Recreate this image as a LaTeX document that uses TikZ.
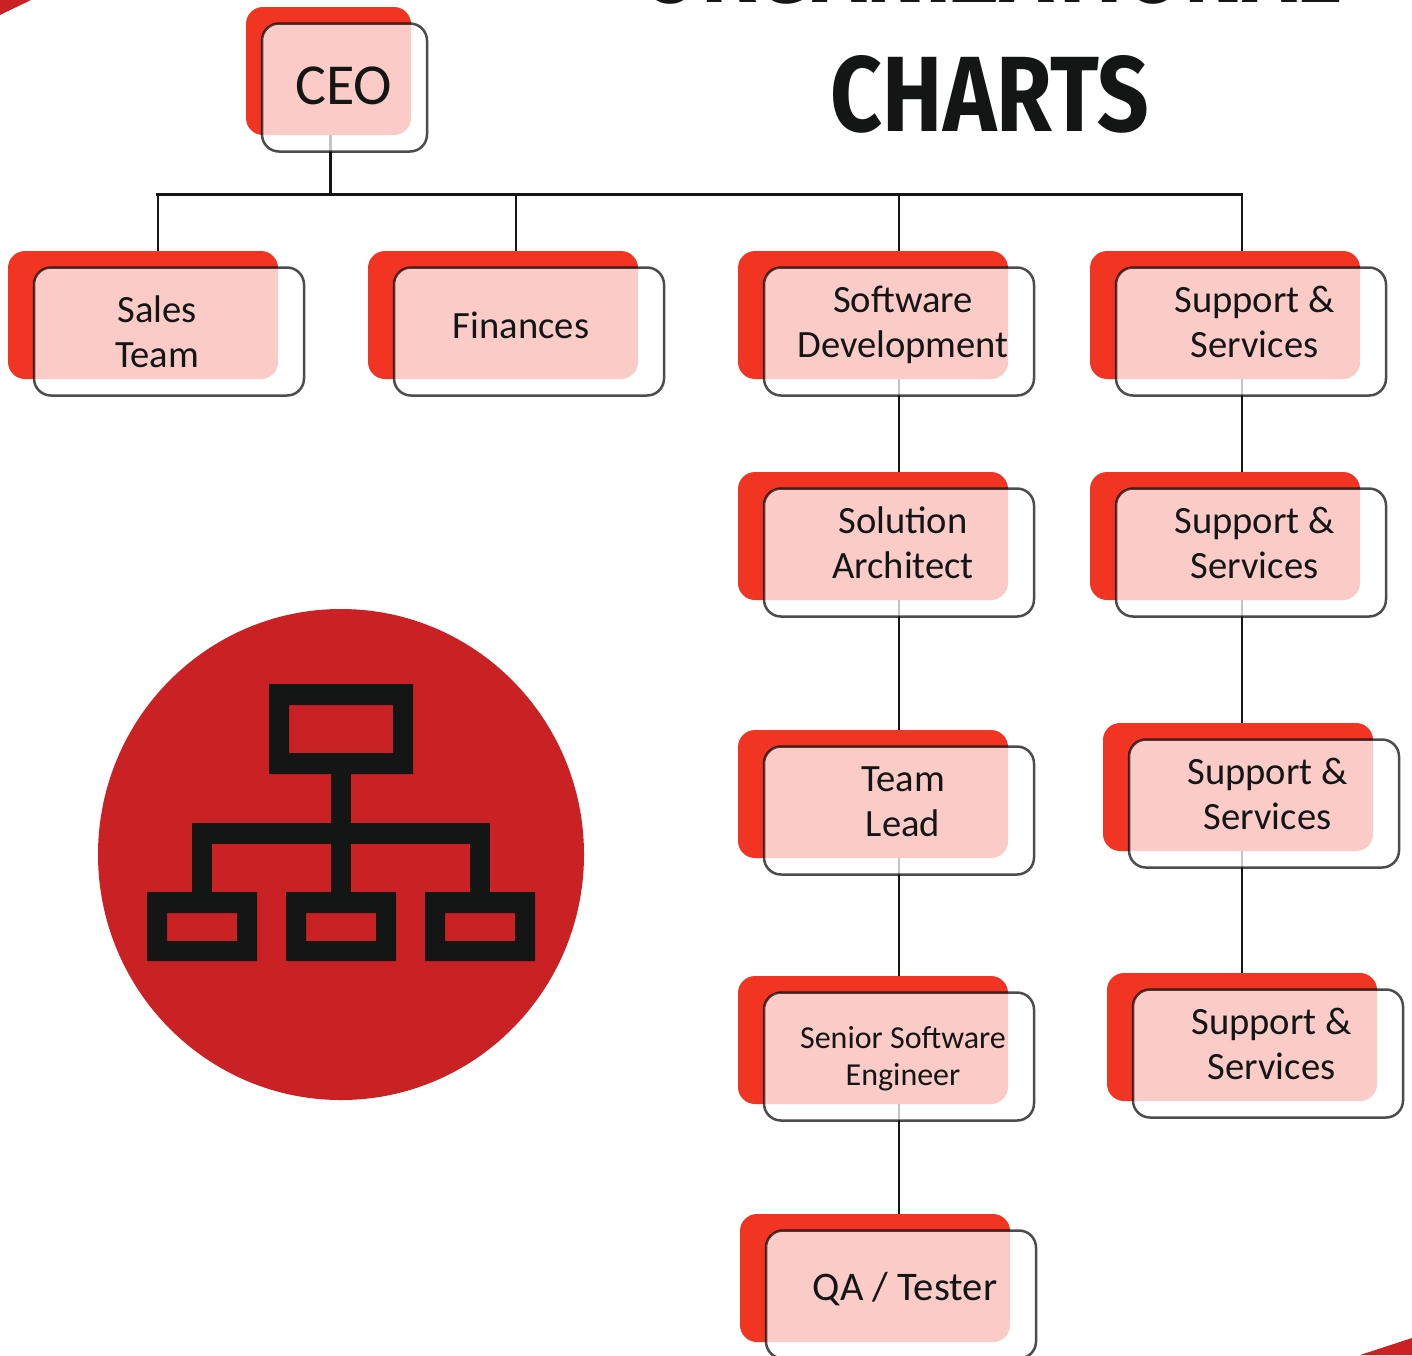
\documentclass[tikz,border=0pt]{standalone}
\usepackage{fontspec}
\setmainfont{Carlito}
\newfontfamily\titlefont{Fira Sans}[BoldFont={Fira Sans Bold}]
\usetikzlibrary{calc}
\definecolor{hotred}{HTML}{F23523}
\definecolor{deepred}{HTML}{C92124}
\definecolor{inkblack}{HTML}{141616}
\pgfdeclarelayer{wires}
\pgfdeclarelayer{top}
\pgfsetlayers{wires,main,top}
\tikzset{
  backbox/.style={rectangle,rounded corners=8.5pt,fill=hotred,inner sep=0pt,minimum width=135pt,minimum height=64pt},
  frontbox/.style={rectangle,rounded corners=8.5pt,fill=white,fill opacity=.75,draw=black,draw opacity=.7,line width=1.25pt,inner sep=0pt,minimum width=135pt,minimum height=64pt},
  narrowbox/.style={minimum width=82.5pt},
  lbl/.style={inner sep=0pt,align=center,text=inkblack,font=\fontsize{19.3}{22.5}\selectfont},
  qalbl/.style={inner sep=0pt,align=center,text=inkblack,font=\fontsize{20.3}{22.5}\selectfont},
  smalllbl/.style={inner sep=0pt,align=center,text=inkblack,font=\fontsize{16}{18.5}\selectfont},
  wire/.style={draw=inkblack,line width=1.4pt},
  iconpart/.style={fill=inkblack,even odd rule},
  corner/.style={fill=deepred},
}
\newcommand{\orgbox}[6]{%
  \node[backbox,#6] (#1r) at (#2,#3) {};
  \begin{pgfonlayer}{top}
    \node[frontbox,#6] (#1f) at (#4,#5) {};
  \end{pgfonlayer}}
\begin{document}
\begin{tikzpicture}[x=0.5pt,y=-0.5pt]
\useasboundingbox (0,0) rectangle (1412,1355);
\clip (0,0) rectangle (1412,1355);
\begin{pgfonlayer}{wires}
  \fill[white] (0,0) rectangle (1412,1355);
\end{pgfonlayer}

% corners
\fill[corner] (0,0) -- (31,0) -- (0,15) -- cycle;
\fill[corner] (1412,1355) -- (1360,1355) -- (1412,1338) -- cycle;

% title
\node[inner sep=0pt,text=inkblack,anchor=south] (t1) at (991,5) {\resizebox{351pt}{38pt}{\titlefont\bfseries ORGANIZATIONAL}};
\node[inner sep=0pt,text=inkblack,anchor=south] (t2) at (990,134) {\resizebox{159pt}{38pt}{\titlefont\bfseries CHARTS}};

% boxes
\orgbox{ceo}{328.5}{71}{344.5}{87.5}{narrowbox}
\orgbox{sales}{143}{315}{169}{331.5}{}
\orgbox{fin}{503}{315}{529}{331.5}{}
\orgbox{soft}{873}{315}{899}{331.5}{}
\orgbox{supa}{1225}{315}{1251}{331.5}{}
\orgbox{arch}{873}{536}{899}{552.5}{}
\orgbox{supb}{1225}{536}{1251}{552.5}{}
\orgbox{lead}{873}{794}{899}{810.5}{}
\orgbox{supc}{1238}{787}{1264}{803.5}{}
\orgbox{sen}{873}{1040}{899}{1056.5}{}
\orgbox{supd}{1242}{1037}{1268}{1053.5}{}
\orgbox{qa}{875}{1278}{901}{1294.5}{}

% labels
\begin{pgfonlayer}{top}
  \node[inner sep=0pt,text=inkblack,font=\fontsize{29}{30}\selectfont] (lceo) at (344,86) {CEO};
  \node[lbl] (lsales) at (157,332) {Sales\\Team};
  \node[lbl] (lfin) at (521,325.5) {Finances};
  \node[lbl] (lsoft) at (903,324.5) {Software\\Development};
  \node[lbl] (lsupa) at (1254.5,322) {Support \&\\Services};
  \node[lbl] (larch) at (903,543) {Solution\\Architect};
  \node[lbl] (lsupb) at (1254.5,543) {Support \&\\Services};
  \node[lbl] (llead) at (903,801.5) {Team\\Lead};
  \node[lbl] (lsupc) at (1267.5,794) {Support \&\\Services};
  \node[smalllbl] (lsen) at (903,1058.5) {Senior Software\\Engineer};
  \node[lbl] (lsupd) at (1271.5,1044) {Support \&\\Services};
  \node[qalbl] (lqa) at (905,1289) {QA / Tester};
\end{pgfonlayer}

% connectors
\coordinate (tapceo) at (330.5,194.5);
\coordinate (tapsales) at (158,194.5);
\coordinate (tapfin) at (516,194.5);
\coordinate (tapsoft) at (899,194.5);
\coordinate (tapsup) at (1242,194.5);
\begin{pgfonlayer}{wires}
  \draw[wire] (tapceo|-ceor.south) -- (tapceo);
  \draw[wire] ($(tapsales)+(-2,0)$) -- ($(tapsup)+(1,0)$);
  \draw[wire] (tapsales) -- (tapsales|-salesr.north);
  \draw[wire] (tapfin) -- (tapfin|-finr.north);
  \draw[wire] (tapsoft) -- (tapsoft|-softr.north);
  \draw[wire] (tapsup) -- (tapsup|-supar.north);
  \draw[wire] (tapsoft|-softr.south) -- (tapsoft|-archr.north);
  \draw[wire] (tapsoft|-archr.south) -- (tapsoft|-leadr.north);
  \draw[wire] (tapsoft|-leadr.south) -- (tapsoft|-senr.north);
  \draw[wire] (tapsoft|-senr.south) -- (tapsoft|-qar.north);
  \draw[wire] (tapsup|-supar.south) -- (tapsup|-supbr.north);
  \draw[wire] (tapsup|-supbr.south) -- (tapsup|-supcr.north);
  \draw[wire] (tapsup|-supcr.south) -- (tapsup|-supdr.north);
\end{pgfonlayer}

% icon
\fill[deepred] (341,854.5) ellipse[x radius=243,y radius=245.5];
\fill[iconpart] (269,684) rectangle (413,774) (289,705) rectangle (393,753);
\fill[iconpart] (147,892) rectangle (257,961) (167,913) rectangle (237,941);
\fill[iconpart] (286,892) rectangle (396,961) (306,913) rectangle (376,941);
\fill[iconpart] (425,892) rectangle (535,961) (445,913) rectangle (515,941);
\fill[inkblack] (331,774) rectangle (351,892);
\fill[inkblack] (192,823) rectangle (490,844);
\fill[inkblack] (192,844) rectangle (212,892);
\fill[inkblack] (470,844) rectangle (490,892);
\end{tikzpicture}
\end{document}
